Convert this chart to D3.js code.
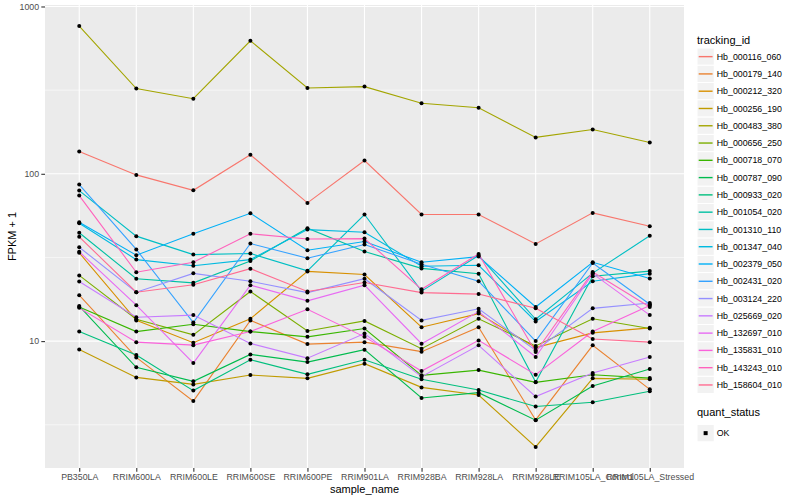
<!DOCTYPE html>
<html>
<head>
<meta charset="utf-8">
<script src="https://cdn.jsdelivr.net/npm/d3@7"></script>
<style>
body { margin: 0; background: #ffffff; }
text { font-family: "Liberation Sans", Arial, sans-serif; }
</style>
</head>
<body>
<div id="container"></div>
<script>
"use strict"

// samples along the x axis
const sampleNames = ["PB350LA", "RRIM600LA", "RRIM600LE", "RRIM600SE", "RRIM600PE", "RRIM901LA",
    "RRIM928BA", "RRIM928LA", "RRIM928LE", "RRIM105LA_Control", "RRIM105LA_Stressed"];

const trackingIds = ["Hb_000116_060", "Hb_000179_140", "Hb_000212_320", "Hb_000256_190", "Hb_000483_380",
    "Hb_000656_250", "Hb_000718_070", "Hb_000787_090", "Hb_000933_020", "Hb_001054_020",
    "Hb_001310_110", "Hb_001347_040", "Hb_002379_050", "Hb_002431_020", "Hb_003124_220",
    "Hb_025669_020", "Hb_132697_010", "Hb_135831_010", "Hb_143243_010", "Hb_158604_010"];

const trackingColors = ["#F8766D", "#EA8331", "#D89000", "#C09B00", "#A3A500", "#7CAE00", "#39B600",
    "#00BB4E", "#00BF7D", "#00C1A3", "#00BFC4", "#00BAE0", "#00B0F6", "#35A2FF", "#9590FF",
    "#C77CFF", "#E76BF3", "#FA62DB", "#FF62BC", "#FF6C91"];

// FPKM + 1, one array per tracking id, in sample order
const hb000116060 = [136, 98.5, 79.7, 130, 67.0, 120, 57.1, 57.1, 38.1, 58.4, 48.6];
const hb000179140 = [18.8, 7.99, 4.38, 13.3, 9.60, 9.86, 8.65, 12.1, 3.38, 9.43, 5.15];
const hb000212320 = [33.7, 13.3, 9.78, 13.6, 26.1, 25.0, 12.1, 14.6, 9.15, 11.2, 12.0];
const hb000256190 = [8.92, 6.07, 5.51, 6.27, 5.99, 7.33, 5.29, 4.76, 2.33, 5.99, 5.91];
const hb000483380 = [764, 323, 281, 624, 326, 332, 264, 248, 165, 184, 154];
const hb000656250 = [24.7, 13.5, 10.9, 19.8, 11.5, 13.2, 9.01, 13.6, 9.36, 13.6, 11.9];
const hb000718070 = [16.0, 11.4, 12.6, 11.4, 10.6, 11.9, 6.24, 6.71, 5.67, 6.30, 6.01];
const hb000787090 = [16.2, 6.97, 5.75, 8.33, 7.49, 8.89, 4.57, 4.92, 3.37, 5.39, 6.81];
const hb000933020 = [11.4, 8.25, 5.06, 7.74, 6.33, 7.74, 5.91, 5.10, 4.07, 4.31, 5.01];
const hb001054020 = [44.4, 23.6, 22.3, 30.1, 47.3, 34.3, 27.2, 25.3, 5.69, 24.4, 26.2];
const hb001310110 = [79.4, 42.4, 32.9, 33.4, 26.3, 57.1, 19.9, 32.5, 13.5, 25.5, 42.6];
const hb001347040 = [50.6, 30.7, 28.2, 30.7, 46.4, 44.7, 28.0, 28.4, 13.1, 22.8, 25.3];
const hb002379050 = [51.3, 32.6, 43.8, 58.1, 34.9, 39.4, 29.6, 32.0, 16.0, 29.6, 23.7];
const hb002431020 = [86.2, 35.3, 12.9, 38.3, 31.3, 37.8, 28.8, 22.8, 10.0, 29.3, 16.6];
const hb003124220 = [36.4, 19.6, 25.4, 22.8, 19.5, 23.6, 13.3, 15.6, 8.80, 15.7, 16.9];
const hb025669020 = [22.7, 13.9, 14.3, 9.69, 7.91, 11.1, 6.13, 9.43, 4.66, 6.44, 8.03];
const hb132697010 = [34.2, 16.4, 7.39, 21.6, 17.4, 21.6, 9.65, 15.0, 8.03, 25.3, 14.3];
const hb135831010 = [15.8, 9.86, 9.46, 11.4, 15.5, 10.6, 6.62, 10.1, 6.30, 11.4, 16.3];
const hb143243010 = [74.1, 25.8, 29.6, 43.8, 40.8, 41.0, 20.4, 33.2, 8.60, 25.9, 16.0];
const hb158604010 = [42.0, 19.6, 21.7, 27.1, 19.8, 22.4, 19.5, 19.1, 15.7, 10.3, 9.86];

const seriesValues = [hb000116060, hb000179140, hb000212320, hb000256190, hb000483380,
    hb000656250, hb000718070, hb000787090, hb000933020, hb001054020,
    hb001310110, hb001347040, hb002379050, hb002431020, hb003124220,
    hb025669020, hb132697010, hb135831010, hb143243010, hb158604010];

const quantStatus = ["OK"];
const yMajorTicks = [10, 100, 1000];
const yMinorBreaks = [3.162, 31.62, 316.2];

const width = 800;
const height = 500;
const panel = {left: 45, top: 5, right: 684, bottom: 468};
const legendX = 697;
const keySize = 17.28;

let svg;
let xScale;
let yScale;


function Main()
{
    CreateSVG();
    CreateScales();
    DrawPanel();
    DrawSeries();
    DrawAxes();
    DrawLegend();
    document.getElementById("container").append(svg.node());
};


function CreateSVG()
{
    svg = d3.create("svg")
        .attr("width", width)
        .attr("height", height);

    svg.append("rect")
        .attr("width", width)
        .attr("height", height)
        .attr("fill", "white");
};


function CreateScales()
{
    xScale = d3.scalePoint()
        .domain(sampleNames)
        .range([panel.left, panel.right])
        .padding(0.6);

    // ggplot style 5% expansion in log space
    const logExtent = d3.extent(seriesValues.flat(), d => Math.log10(d));
    const pad = (logExtent[1] - logExtent[0]) * 0.05;

    yScale = d3.scaleLog()
        .domain([Math.pow(10, logExtent[0] - pad), Math.pow(10, logExtent[1] + pad)])
        .range([panel.bottom, panel.top]);
};


function DrawPanel()
{
    svg.append("rect")
        .attr("x", panel.left)
        .attr("y", panel.top)
        .attr("width", panel.right - panel.left)
        .attr("height", panel.bottom - panel.top)
        .attr("fill", "#EBEBEB");

    svg.append("g")
        .selectAll("line")
        .data(yMinorBreaks)
        .enter()
        .append("line")
        .attr("x1", panel.left)
        .attr("x2", panel.right)
        .attr("y1", d => yScale(d))
        .attr("y2", d => yScale(d))
        .attr("stroke", "white")
        .attr("stroke-width", 0.55);

    svg.append("g")
        .selectAll("line")
        .data(yMajorTicks)
        .enter()
        .append("line")
        .attr("x1", panel.left)
        .attr("x2", panel.right)
        .attr("y1", d => yScale(d))
        .attr("y2", d => yScale(d))
        .attr("stroke", "white")
        .attr("stroke-width", 1.1);

    svg.append("g")
        .selectAll("line")
        .data(sampleNames)
        .enter()
        .append("line")
        .attr("x1", d => xScale(d))
        .attr("x2", d => xScale(d))
        .attr("y1", panel.top)
        .attr("y2", panel.bottom)
        .attr("stroke", "white")
        .attr("stroke-width", 1.1);
};


function DrawSeries()
{
    const line = d3.line()
        .x((_, i) => xScale(sampleNames[i]))
        .y(d => yScale(d));

    svg.append("g")
        .selectAll("path")
        .data(seriesValues)
        .enter()
        .append("path")
        .attr("d", line)
        .attr("fill", "none")
        .attr("stroke", (_, i) => trackingColors[i])
        .attr("stroke-width", 1.1);

    const points = seriesValues.flatMap(values => values.map((v, i) => ({sample: sampleNames[i], value: v})));

    svg.append("g")
        .selectAll("circle")
        .data(points)
        .enter()
        .append("circle")
        .attr("cx", d => xScale(d.sample))
        .attr("cy", d => yScale(d.value))
        .attr("r", 2)
        .attr("fill", "black");
};


function StyleAxis(axisGroup)
{
    axisGroup.select(".domain").remove();
    axisGroup.selectAll(".tick line").attr("stroke", "#333333").attr("stroke-width", 1.1);
    axisGroup.selectAll(".tick text")
        .attr("fill", "#4D4D4D")
        .style("font-size", "8.8px")
        .style("font-family", "'Liberation Sans', Arial, sans-serif");
};


function DrawAxes()
{
    const yAxis = svg.append("g")
        .attr("transform", `translate(${panel.left},0)`)
        .call(d3.axisLeft(yScale).tickValues(yMajorTicks).tickFormat(d3.format("d")).tickSize(3.7).tickPadding(2.2));
    StyleAxis(yAxis);

    const xAxis = svg.append("g")
        .attr("transform", `translate(0,${panel.bottom})`)
        .call(d3.axisBottom(xScale).tickSize(3.7).tickPadding(2.2));
    StyleAxis(xAxis);

    svg.append("text")
        .attr("x", (panel.left + panel.right) / 2)
        .attr("y", 493)
        .attr("text-anchor", "middle")
        .attr("font-size", "11px")
        .attr("fill", "black")
        .text("sample_name");

    svg.append("text")
        .attr("transform", `translate(16,${(panel.top + panel.bottom) / 2}) rotate(-90)`)
        .attr("text-anchor", "middle")
        .attr("font-size", "11px")
        .attr("fill", "black")
        .text("FPKM + 1");
};


function DrawLegend()
{
    const keysTop = 48;

    svg.append("text")
        .attr("x", legendX)
        .attr("y", 44)
        .attr("font-size", "11px")
        .text("tracking_id");

    const keys = svg.append("g")
        .selectAll("g")
        .data(trackingIds)
        .enter()
        .append("g")
        .attr("transform", (_, i) => `translate(${legendX},${keysTop + i * keySize})`);

    keys.append("rect")
        .attr("width", keySize)
        .attr("height", keySize)
        .attr("fill", "#F2F2F2")
        .attr("stroke", "white")
        .attr("stroke-width", 1);

    keys.append("line")
        .attr("x1", 1.7)
        .attr("x2", keySize - 1.7)
        .attr("y1", keySize / 2)
        .attr("y2", keySize / 2)
        .attr("stroke", (_, i) => trackingColors[i])
        .attr("stroke-width", 1.4);

    keys.append("text")
        .attr("x", keySize + 2.5)
        .attr("y", keySize / 2 + 3.1)
        .attr("font-size", "8.8px")
        .attr("fill", "black")
        .text(d => d);

    svg.append("text")
        .attr("x", legendX)
        .attr("y", 416)
        .attr("font-size", "11px")
        .text("quant_status");

    const statusKeys = svg.append("g")
        .selectAll("g")
        .data(quantStatus)
        .enter()
        .append("g")
        .attr("transform", (_, i) => `translate(${legendX},${424.5 + i * keySize})`);

    statusKeys.append("rect")
        .attr("width", keySize)
        .attr("height", keySize)
        .attr("fill", "#F2F2F2")
        .attr("stroke", "white");

    statusKeys.append("rect")
        .attr("x", keySize / 2 - 2)
        .attr("y", keySize / 2 - 2)
        .attr("width", 4)
        .attr("height", 4)
        .attr("fill", "black");

    statusKeys.append("text")
        .attr("x", keySize + 2.5)
        .attr("y", keySize / 2 + 3.1)
        .attr("font-size", "8.8px")
        .attr("fill", "black")
        .text(d => d);
};


Main();
</script>
</body>
</html>
